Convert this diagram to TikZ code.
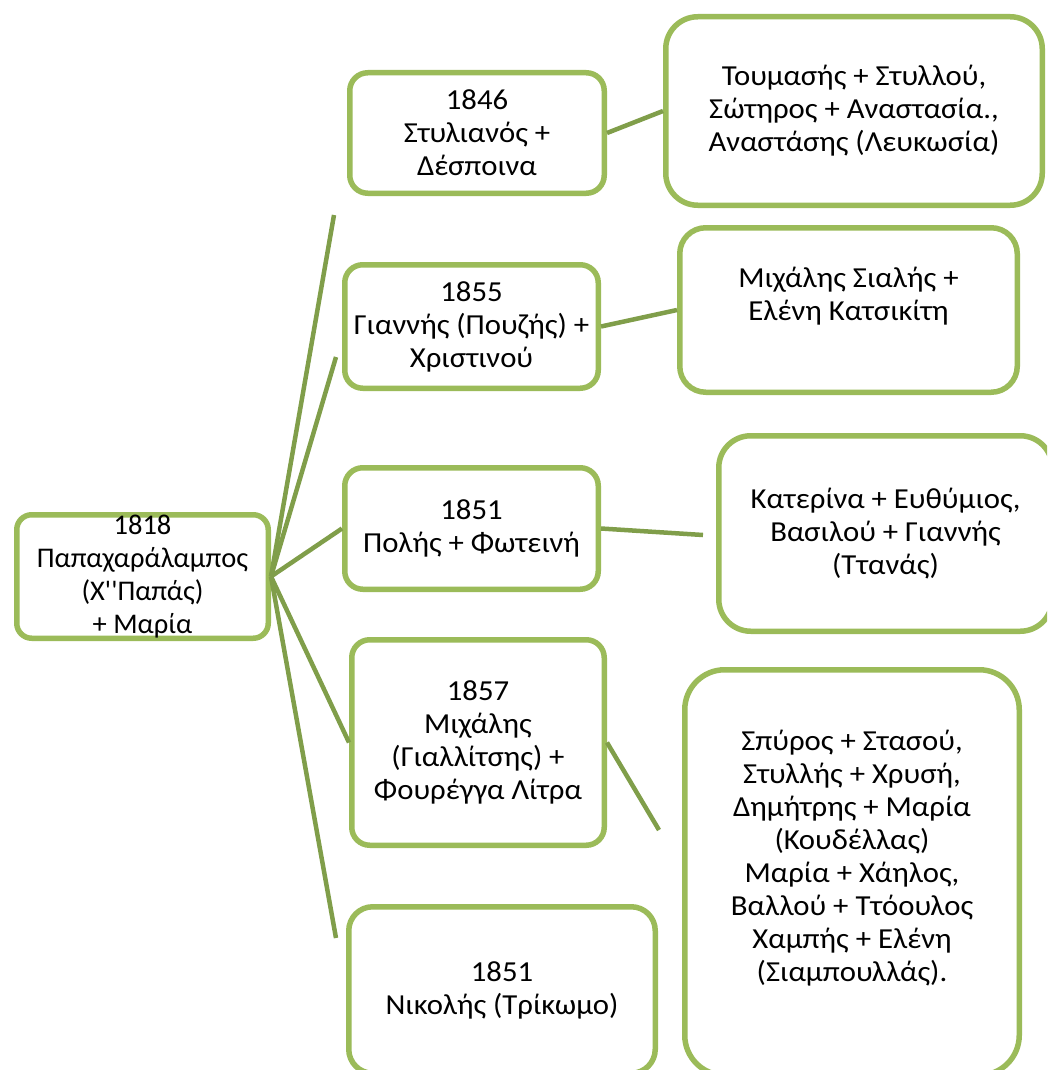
\documentclass[tikz,border=0pt]{standalone}
\usepackage{fontspec}
\setmainfont{Carlito}[Ligatures=TeXOff, FakeStretch=1.06]
\newfontfamily\rootfont{Carlito}[Ligatures=TeXOff]
\usetikzlibrary{positioning}
\definecolor{boxgreen}{HTML}{9BBB59}
\definecolor{linegreen}{HTML}{809E4A}
\tikzset{
    auto,
    member/.style ={rectangle, draw=boxgreen, line width=5.5pt, rounded corners=18pt, fill=white,
                    align=center, inner sep=0pt, font=\fontsize{29}{33}\selectfont},
    family/.style ={member, rounded corners=32pt},
    link/.style={draw=linegreen, line width=4.5pt}
}
\begin{document}
\begin{tikzpicture}[x=1pt,y=-1pt]
 \path[use as bounding box, clip] (0,0) rectangle (1047,1070);
 \node[member, minimum width=251.5pt, minimum height=123.5pt, rounded corners=15pt,
       font=\rootfont\fontsize{28.5}{33}\selectfont] (r) at (142.5,576.5) {1818\\Παπαχαράλαμπος\\(Χ''Παπάς)\\+ Μαρία};

    \node[member, minimum width=254.5pt, minimum height=120.5pt] (c1) at (477,133) {1846\\Στυλιανός +\\Δέσποινα};
    \node[member, minimum width=253.5pt, minimum height=123.5pt] (c2) at (471.5,326.5) {1855\\Γιαννής (Πουζής) +\\Χριστινού};
    \node[member, minimum width=253.5pt, minimum height=121.5pt] (c3) at (471.5,528.5) {1851\\Πολής + Φωτεινή};
    \node[member, minimum width=252.5pt, minimum height=205.5pt] (c4) at (478,742.5) {1857\\Μιχάλης\\(Γιαλλίτσης) +\\Φουρέγγα Λίτρα};
    \node[member, minimum width=306.5pt, minimum height=166.5pt, rounded corners=24pt] (c5) at (502,990) {1851\\Νικολής (Τρίκωμο)};

    \node[family, minimum width=376.5pt, minimum height=188.5pt] (g1) at (854,111) {Τουμασής + Στυλλού,\\Σώτηρος + Αναστασία.,\\Αναστάσης (Λευκωσία)};
    \node[family, minimum width=337.5pt, minimum height=164.5pt, rounded corners=26pt] (g2) at (848.5,310) {Μιχάλης Σιαλής +\\Ελένη Κατσικίτη\\~};
    \node[family, minimum width=333.5pt, minimum height=195.5pt] (g3) at (885.5,533.5) {Κατερίνα + Ευθύμιος,\\Βασιλού + Γιαννής\\(Ττανάς)};
    \node[family, minimum width=334.5pt, minimum height=405.5pt, rounded corners=40pt] (g4) at (852,872.5) {Σπύρος + Στασού,\\Στυλλής + Χρυσή,\\Δημήτρης + Μαρία\\(Κουδέλλας)\\Μαρία + Χάηλος,\\Βαλλού + Ττόουλος\\Χαμπής + Ελένη\\(Σιαμπουλλάς).\\~};

    \coordinate (t1) at (334,215);
    \coordinate (t2) at (336,357);
    \coordinate (t3) at (703,535);
    \coordinate (t4) at (659,830);
    \coordinate (t5) at (336,938);

    \path[link] (r.east) -- (t1);
    \path[link] (r.east) -- (t2);
    \path[link] (r.east) -- (c3.west);
    \path[link] (r.east) -- (c4.west);
    \path[link] (r.east) -- (t5);
    \path[link] (c1.east) -- (g1.west);
    \path[link] (c2.east) -- (g2.west);
    \path[link] (c3.east) -- (t3);
    \path[link] (c4.east) -- (t4);
\end{tikzpicture}
\end{document}
